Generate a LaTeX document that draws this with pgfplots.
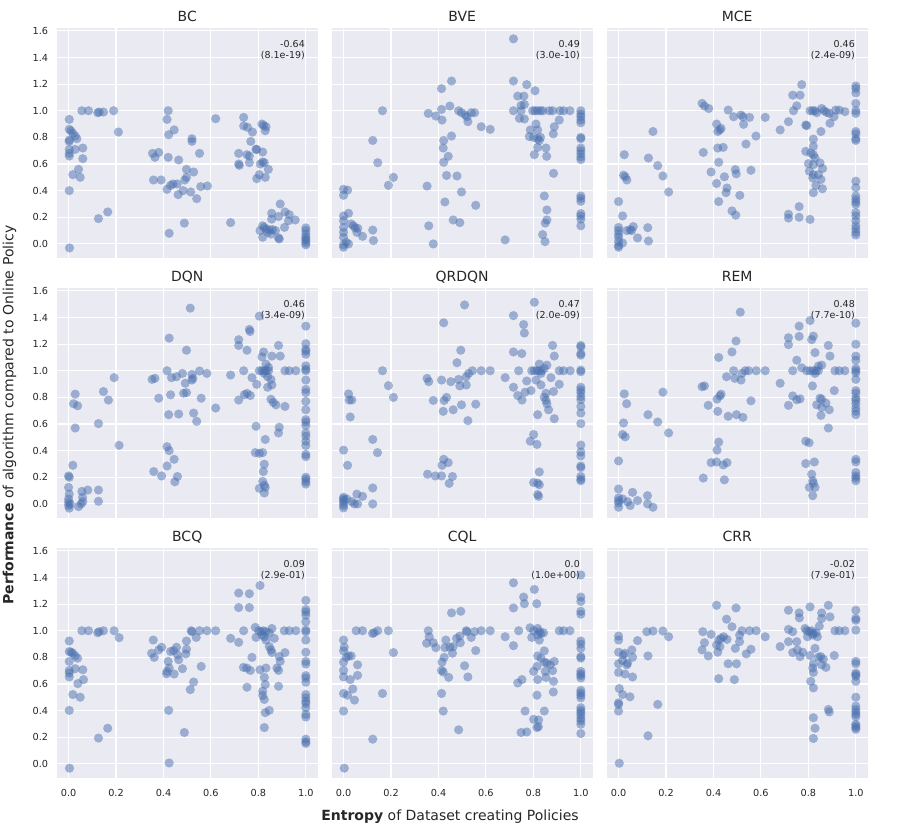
\documentclass[border=0pt]{standalone}
\usepackage{fontspec}
\setmainfont{DejaVu Sans}
\usepackage{pgfplots}
\pgfplotsset{compat=1.18}
\definecolor{bgc}{HTML}{EAEAF2}
\definecolor{ptc}{HTML}{4C72B0}
\definecolor{txt}{HTML}{262626}
\pgfplotsset{
 panel/.style={
  scale only axis, width=261pt, height=230pt,
  xmin=-0.05, xmax=1.05, ymin=-0.108, ymax=1.619,
  axis background/.style={fill=bgc},
  axis line style={draw=none},
  xmajorgrids, ymajorgrids, grid style={white, line width=1.1pt},
  major tick length=0pt, tick style={draw=none},
  xtick={0,0.2,0.4,0.6,0.8,1}, ytick={0,0.2,0.4,0.6,0.8,1,1.2,1.4,1.6},
  xticklabels={}, yticklabels={},
  ticklabel style={font=\fontsize{9.7}{11}\selectfont, text=txt},
  xticklabel style={anchor=center, inner sep=0pt, yshift=-15pt},
  yticklabel style={anchor=east, inner sep=0pt, xshift=-8.4pt},
  every axis title shift=0pt,
  title style={font=\fontsize{14}{16}\selectfont, text=txt, at={(0.5,1)}, anchor=base, yshift=7.2pt, inner sep=0pt},
 },
 sc/.style={only marks, mark=*, mark size=4.6pt, color=ptc, mark options={fill opacity=0.5, draw opacity=0}},
 bot/.style={xticklabels={0.0,0.2,0.4,0.6,0.8,1.0}},
 lef/.style={yticklabels={0.0,0.2,0.4,0.6,0.8,1.0,1.2,1.4,1.6}},
}
\newcommand{\corr}[2]{\node[anchor=north east, align=right, font=\fontsize{9.5}{10.3}\selectfont, text=txt, inner sep=0pt, xshift=-12.7pt, yshift=-12.2pt] at (rel axis cs:1,1) {#1\\#2};}
\begin{document}
\begin{tikzpicture}
\path[use as bounding box] (0,0) rectangle (900pt,-830pt);
% ---------- BC
\begin{axis}[panel, lef, title={BC}, at={(56.7pt,-28.3pt)}, anchor=north west]
\addplot[sc] coordinates {(0.003,0.935)(0.003,0.861)(0.01,0.849)(0.018,0.83)(0.028,0.81)(0.035,0.79)(0.003,0.78)(0.003,0.77)(0.003,0.71)(0.003,0.68)(0.003,0.66)(0.028,0.71)(0.06,0.72)(0.06,0.64)(0.042,0.56)(0.018,0.52)(0.049,0.50)(0.003,0.40)(0.004,-0.03)(0.056,1.0)(0.084,1.0)(0.123,0.985)(0.129,0.99)(0.147,0.99)(0.19,1.0)(0.21,0.84)(0.126,0.19)(0.165,0.24)
(0.42,1.0)(0.415,0.935)(0.422,0.82)(0.445,0.856)(0.52,0.79)(0.52,0.77)(0.62,0.94)(0.354,0.68)(0.364,0.65)(0.38,0.687)(0.42,0.65)(0.464,0.63)(0.552,0.68)(0.497,0.56)(0.527,0.54)(0.497,0.50)(0.49,0.48)(0.358,0.48)(0.39,0.48)(0.415,0.41)(0.43,0.44)(0.44,0.45)(0.458,0.45)(0.462,0.37)(0.483,0.40)(0.515,0.39)(0.54,0.34)(0.557,0.43)(0.585,0.435)(0.424,0.08)(0.488,0.156)(0.683,0.16)
(0.738,0.95)(0.738,0.886)(0.754,0.876)(0.775,0.84)(0.815,0.9)(0.822,0.89)(0.832,0.88)(0.829,0.85)(0.768,0.77)(0.79,0.71)(0.793,0.71)(0.818,0.69)(0.717,0.68)(0.717,0.60)(0.72,0.59)(0.752,0.67)(0.762,0.66)(0.762,0.61)(0.808,0.60)(0.818,0.615)(0.825,0.61)(0.842,0.56)(0.804,0.52)(0.793,0.49)(0.829,0.50)(0.892,0.30)(0.856,0.23)(0.912,0.24)(0.93,0.22)(0.885,0.206)(0.856,0.186)(0.927,0.174)(0.955,0.18)(0.91,0.124)(0.818,0.136)(0.825,0.124)(0.832,0.11)(0.807,0.10)(0.846,0.107)(0.86,0.107)(0.872,0.1)(0.839,0.087)(0.818,0.05)(0.853,0.074)(0.885,0.045)(0.888,0.037)(1.0,0.12)(1.0,0.1)(1.0,0.074)(1.0,0.05)(1.0,0.025)(1.0,0.007)(1.0,-0.007)(1.0,0.037)};
\corr{-0.64}{(8.1e-19)}
\end{axis}
% ---------- BVE
\begin{axis}[panel, title={BVE}, at={(331.7pt,-28.3pt)}, anchor=north west]
\addplot[sc] coordinates {(0.716,1.54)(0.716,1.223)(0.772,1.196)(0.807,1.15)(0.734,1.11)(0.76,1.11)(0.748,1.04)(0.762,1.047)(0.716,1.0)(0.748,1.0)(0.797,1.0)(0.807,1.0)(0.818,1.0)(0.83,1.0)(0.84,1.0)(0.867,1.0)(0.881,1.0)(0.912,1.0)(0.927,1.0)(0.954,1.0)(0.741,0.943)(0.762,0.938)(0.909,0.93)(0.888,0.88)(0.884,0.826)(0.811,0.9)(0.787,0.856)(0.818,0.856)(0.783,0.806)(0.801,0.80)(0.818,0.79)(0.825,0.777)(0.83,0.80)(0.818,0.725)(0.853,0.72)(0.804,0.67)(0.856,0.658)(0.885,0.53)(0.846,0.36)(0.857,0.255)(0.857,0.18)(0.85,0.156)(0.839,0.07)(0.849,0.017)(0.681,0.03)
(1,1.0)(1,0.975)(1,0.955)(1,0.93)(1,0.91)(1,0.80)(1,0.79)(1,0.72)(1,0.70)(1,0.677)(1,0.653)(1,0.633)(1,0.36)(1,0.342)(1,0.32)(1,0.228)(1,0.21)(1,0.186)(1,0.136)
(0.164,1.0)(0.123,0.777)(0.144,0.61)(0.21,0.50)(0.189,0.44)(0.352,0.434)(0.359,0.136)(0.378,0.0)(0.455,1.223)(0.413,1.166)(0.357,0.98)(0.389,0.96)(0.413,1.01)(0.415,0.93)(0.448,1.035)(0.485,1.0)(0.497,0.985)(0.513,0.968)(0.52,0.955)(0.538,0.985)(0.552,0.985)(0.524,0.918)(0.58,0.88)(0.618,0.86)(0.455,0.81)(0.422,0.777)(0.42,0.72)(0.441,0.658)(0.422,0.613)(0.434,0.514)(0.478,0.51)(0.497,0.39)(0.427,0.315)(0.557,0.29)(0.462,0.18)(0.49,0.16)
(0.0,0.41)(0.017,0.404)(0.0,0.365)(0.0,0.21)(0.021,0.23)(0.0,0.174)(0.0,0.124)(0.032,0.15)(0.042,0.136)(0.049,0.12)(0.06,0.117)(0.056,0.087)(0.0,0.087)(0.0,0.05)(0.011,0.012)(0.021,0.0)(0.0,-0.025)(0.0,-0.007)(0.08,0.057)(0.123,0.104)(0.126,0.025)};
\corr{0.49}{(3.0e-10)}
\end{axis}
% ---------- MCE
\begin{axis}[panel, title={MCE}, at={(606.7pt,-28.3pt)}, anchor=north west]
\addplot[sc] coordinates {(0,0.318)(0.017,0.21)(0.024,0.67)(0.021,0.516)(0.028,0.504)(0.035,0.48)(0,0.124)(0,0.1)(0,0.074)(0,0.05)(0,0.017)(0,-0.012)(0,-0.025)(0.017,0.007)(0.035,0.1)(0.049,0.107)(0.062,0.13)(0.055,0.1)(0.08,0.045)(0.123,0.122)(0.126,0.022)(0.145,0.844)(0.126,0.645)(0.165,0.588)(0.187,0.51)(0.211,0.39)
(0.352,1.055)(0.362,1.035)(0.38,1.017)(0.357,0.687)(0.413,0.9)(0.418,0.844)(0.427,0.856)(0.432,0.868)(0.418,0.72)(0.441,0.725)(0.422,0.613)(0.39,0.54)(0.413,0.454)(0.446,0.504)(0.457,0.42)(0.453,0.385)(0.422,0.318)(0.478,0.248)(0.494,0.216)(0.511,0.365)(0.492,0.558)(0.496,0.526)(0.558,0.553)(0.462,1.005)(0.485,0.955)(0.516,0.968)(0.524,0.955)(0.552,0.95)(0.527,0.898)(0.579,0.81)(0.537,0.75)(0.618,0.95)(0.681,0.856)(0.716,0.918)
(0.737,1.0)(0.751,1.037)(0.734,1.117)(0.765,1.117)(0.772,1.196)(0.789,0.893)(0.793,0.888)(0.807,1.0)(0.818,1.0)(0.828,1.0)(0.835,0.985)(0.856,1.017)(0.866,1.0)(0.877,0.988)(0.888,0.98)(0.908,0.955)(0.915,1.005)(0.93,1.005)(0.954,0.993)(0.891,0.906)(0.853,0.844)(0.821,0.787)(0.821,0.732)(0.789,0.695)(0.81,0.682)(0.821,0.67)(0.828,0.645)(0.8,0.603)(0.821,0.595)(0.849,0.608)(0.86,0.566)(0.804,0.546)(0.821,0.52)(0.842,0.52)(0.818,0.496)(0.853,0.484)(0.832,0.44)(0.859,0.414)(0.821,0.385)(0.761,0.28)(0.716,0.223)(0.716,0.194)(0.761,0.2)(0.807,0.184)
(1,1.186)(1,1.166)(1,1.134)(1,1.055)(1,1.0)(1,0.98)(1,0.844)(1,0.826)(1,0.79)(1,0.777)(1,0.471)(1,0.422)(1,0.36)(1,0.335)(1,0.315)(1,0.298)(1,0.236)(1,0.21)(1,0.174)(1,0.136)(1,0.112)(1,0.087)(1,0.067)};
\corr{0.46}{(2.4e-09)}
\end{axis}
% ---------- DQN
\begin{axis}[panel, lef, title={DQN}, at={(56.7pt,-288.3pt)}, anchor=north west]
\addplot[sc] coordinates {(0.513,1.47)(0.804,1.41)(1,1.335)(0.762,1.31)(0.765,1.295)(0.717,1.233)(0.717,1.19)(0.752,1.154)(0.424,1.245)(0.497,1.154)(0.885,1.19)(0.822,1.141)(0.815,1.104)(0.857,1.11)(0.892,1.11)(0.832,1.05)(0.843,1.025)(0.804,1.0)(0.815,1.0)(0.825,1.0)(0.832,1.0)(0.843,1.0)(0.825,0.98)(0.839,0.955)(0.853,0.935)(0.773,0.948)(0.793,0.898)(0.839,0.876)(0.857,0.893)(0.912,1.0)(0.93,1.0)(0.958,1.0)(0.738,1.0)(0.683,0.968)(0.741,0.82)(0.752,0.83)(0.766,0.814)(0.717,0.78)(0.853,0.786)(0.863,0.762)(0.874,0.744)(0.912,0.732)(0.888,0.576)(0.885,0.533)(0.79,0.583)(0.829,0.484)(0.787,0.385)(0.804,0.38)(0.818,0.385)(0.825,0.298)(0.821,0.243)(0.818,0.169)(0.825,0.141)(0.804,0.117)(0.829,0.124)(0.825,0.082)
(1,1.203)(1,1.16)(1,1.146)(1,1.124)(1,1.037)(1,1.012)(1,1.0)(1,0.93)(1,0.86)(1,0.836)(1,0.77)(1,0.707)(1,0.633)(1,0.615)(1,0.59)(1,0.533)(1,0.509)(1,0.471)(1,0.439)(1,0.372)(1,0.355)(1,0.2)(1,0.186)(1,0.166)(1,0.149)
(0.415,1.0)(0.434,0.948)(0.455,0.955)(0.48,0.98)(0.52,0.973)(0.552,0.998)(0.583,0.98)(0.52,0.93)(0.524,0.943)(0.492,0.906)(0.352,0.935)(0.364,0.943)(0.38,0.794)(0.43,0.819)(0.485,0.831)(0.497,0.836)(0.559,0.794)(0.62,0.72)(0.422,0.67)(0.464,0.675)(0.527,0.682)(0.54,0.62)(0.415,0.43)(0.424,0.40)(0.445,0.335)(0.415,0.285)(0.359,0.243)(0.392,0.21)(0.459,0.206)(0.448,0.166)
(0.028,0.824)(0.021,0.752)(0.038,0.737)(0.028,0.57)(0.147,0.844)(0.168,0.78)(0.192,0.948)(0.126,0.603)(0.213,0.44)(0.018,0.29)(0,0.21)(0.003,0.2)(0,0.124)(0.003,0.074)(0,0.037)(0,0.012)(0,-0.012)(0.003,-0.032)(0.007,0)(0.042,-0.02)(0.053,0)(0.06,0.017)(0.059,0.05)(0.056,0.094)(0.081,0.104)(0.126,0.104)(0.126,0.02)};
\corr{0.46}{(3.4e-09)}
\end{axis}
% ---------- QRDQN
\begin{axis}[panel, title={QRDQN}, at={(331.7pt,-288.3pt)}, anchor=north west]
\addplot[sc] coordinates {(0.51,1.494)(0.804,1.514)(0.716,1.414)(0.759,1.347)(0.762,1.283)(0.422,1.36)(0.494,1.154)(0.478,1.06)(0.716,1.141)(0.751,1.129)(0.881,1.19)(0.888,1.11)(0.825,1.05)(0.857,1.042)(0.793,1.0)(0.804,1.0)(0.815,1.0)(0.825,1.0)(0.835,1.0)(0.846,1.017)(0.832,0.98)(0.874,0.948)(0.909,0.898)(0.885,0.844)(0.853,0.831)(0.846,0.801)(0.853,0.777)(0.857,0.752)(0.864,0.707)(0.888,0.64)(0.818,0.67)(0.832,0.893)(0.811,0.93)(0.772,0.923)(0.738,1.0)(0.681,0.948)(0.716,0.876)(0.79,0.851)(0.765,0.839)(0.734,0.814)(0.752,0.78)(0.909,1.0)(0.927,1.0)(0.955,1.0)(0.801,0.521)(0.787,0.471)(0.815,0.447)(0.825,0.24)(0.801,0.161)(0.818,0.156)(0.825,0.144)(0.818,0.07)(0.822,0.057)
(1,1.19)(1,1.179)(1,1.129)(1,1.117)(1,1.005)(1,0.993)(1,0.876)(1,0.856)(1,0.836)(1,0.806)(1,0.782)(1,0.732)(1,0.682)(1,0.603)(1,0.442)(1,0.39)(1,0.36)(1,0.285)(1,0.273)(1,0.206)(1,0.186)(1,0.174)
(0.352,0.943)(0.359,0.918)(0.413,0.93)(0.452,0.918)(0.485,0.935)(0.49,0.886)(0.517,0.893)(0.517,0.955)(0.527,0.98)(0.543,1.0)(0.58,1.0)(0.618,1.0)(0.378,0.777)(0.424,0.777)(0.434,0.8)(0.42,0.695)(0.462,0.707)(0.497,0.744)(0.557,0.749)(0.524,0.625)(0.422,0.335)(0.415,0.29)(0.441,0.31)(0.354,0.223)(0.387,0.21)(0.413,0.21)(0.459,0.206)(0.445,0.154)
(0.021,0.826)(0.024,0.78)(0.035,0.78)(0.028,0.653)(0.164,1.0)(0.189,0.888)(0.21,0.8)(0.123,0.484)(0.143,0.385)(0,0.404)(0.017,0.29)(0,0.05)(0,0.037)(0,0.025)(0,0.007)(0,-0.012)(0,-0.03)(0.035,0.017)(0.046,0)(0.059,0)(0.056,0.074)(0.08,0.057)(0.123,0.12)(0.123,0)(0.014,0.037)};
\corr{0.47}{(2.0e-09)}
\end{axis}
% ---------- REM
\begin{axis}[panel, title={REM}, at={(606.7pt,-288.3pt)}, anchor=north west]
\addplot[sc] coordinates {(0.513,1.44)(0.807,1.377)(1,1.357)(0.761,1.335)(0.761,1.258)(0.821,1.26)(0.814,1.233)(0.716,1.248)(0.716,1.196)(0.495,1.223)(0.478,1.141)(0.422,1.1)(0.828,1.136)(0.884,1.19)(0.891,1.11)(0.751,1.079)(0.772,1.022)(0.842,1.035)(0.856,1.042)(0.734,1.0)(0.793,1.0)(0.807,1.0)(0.821,1.0)(0.832,1.0)(0.842,1.0)(0.828,0.98)(0.912,1.0)(0.93,1.0)(0.954,1.0)(0.817,0.886)(0.909,0.851)(0.681,0.906)(0.734,0.811)(0.751,0.782)(0.765,0.789)(0.716,0.74)(0.849,0.794)(0.856,0.786)(0.835,0.744)(0.856,0.725)(0.874,0.757)(0.888,0.707)(0.853,0.665)(0.884,0.57)(0.789,0.471)(0.803,0.459)(0.789,0.303)(0.825,0.315)(0.814,0.223)(0.818,0.174)(0.821,0.156)(0.804,0.124)(0.828,0.124)(0.818,0.062)
(1,1.199)(1,1.11)(1,1.079)(1,1.017)(1,1.0)(1,0.985)(1,0.935)(1,0.851)(1,0.831)(1,0.794)(1,0.777)(1,0.752)(1,0.72)(1,0.695)(1,0.67)(1,0.335)(1,0.315)(1,0.236)(1,0.21)(1,0.194)(1,0.174)
(0.455,0.955)(0.485,1.0)(0.49,0.943)(0.52,0.98)(0.516,0.93)(0.534,1.0)(0.548,1.0)(0.58,1.0)(0.618,1.0)(0.352,0.88)(0.362,0.886)(0.415,0.787)(0.427,0.811)(0.432,0.824)(0.378,0.74)(0.558,0.774)(0.418,0.695)(0.462,0.658)(0.497,0.67)(0.524,0.65)(0.422,0.464)(0.415,0.404)(0.39,0.31)(0.413,0.315)(0.441,0.293)(0.457,0.31)(0.357,0.194)(0.446,0.181)
(0.024,0.826)(0.034,0.752)(0.021,0.608)(0.017,0.521)(0.028,0.504)(0.187,0.839)(0.124,0.67)(0.165,0.615)(0.211,0.533)(0,0.323)(0,0.112)(0,0.045)(0,0.025)(0,0.007)(0,-0.025)(0.017,0.037)(0.038,0.017)(0.049,-0.012)(0.059,0.087)(0.08,0.025)(0.122,0.062)(0.122,0)(0.145,-0.025)};
\corr{0.48}{(7.7e-10)}
\end{axis}
% ---------- BCQ
\begin{axis}[panel, lef, bot, title={BCQ}, at={(56.7pt,-548.3pt)}, anchor=north west]
\addplot[sc] coordinates {(0.807,1.34)(0.717,1.283)(0.762,1.278)(0.717,1.174)(0.762,1.174)(1,1.228)(1,1.159)(1,1.141)(1,1.117)(1,1.067)(1,1.005)(1,0.993)(1,0.93)(1,0.839)(1,0.77)(1,0.75)(1,0.663)(1,0.645)(1,0.613)(1,0.521)(1,0.496)(1,0.471)(1,0.454)(1,0.422)(1,0.372)(1,0.352)(1,0.186)(1,0.166)(1,0.154)
(0.787,1.025)(0.801,1.0)(0.811,0.993)(0.821,1.0)(0.832,0.993)(0.815,0.968)(0.825,0.955)(0.846,0.985)(0.857,1.017)(0.79,0.95)(0.832,0.93)(0.867,0.943)(0.846,0.881)(0.853,0.856)(0.857,0.836)(0.888,0.806)(0.912,0.836)(0.892,0.77)(0.878,0.72)(0.885,0.702)(0.909,1.0)(0.93,1.0)(0.958,1.0)(0.738,1.0)(0.683,0.943)(0.717,0.913)(0.773,0.8)(0.737,0.725)(0.751,0.72)(0.766,0.702)(0.807,0.707)(0.832,0.72)(0.825,0.65)(0.829,0.596)(0.818,0.546)(0.818,0.514)(0.825,0.484)(0.752,0.576)(0.885,0.583)(0.829,0.385)(0.846,0.402)(0.825,0.273)
(0.517,1.0)(0.52,0.993)(0.552,1.0)(0.583,1.0)(0.62,1.0)(0.538,0.95)(0.497,0.923)(0.357,0.93)(0.392,0.876)(0.38,0.856)(0.35,0.831)(0.361,0.80)(0.43,0.844)(0.443,0.851)(0.455,0.876)(0.459,0.819)(0.464,0.782)(0.494,0.826)(0.497,0.861)(0.42,0.77)(0.424,0.72)(0.415,0.695)(0.413,0.677)(0.445,0.675)(0.48,0.715)(0.559,0.732)(0.527,0.615)(0.513,0.558)(0.422,0.402)(0.488,0.236)(0.424,0.007)
(0.003,0.923)(0.003,0.844)(0.011,0.839)(0.018,0.831)(0.028,0.811)(0.038,0.794)(0.003,0.77)(0.003,0.702)(0.003,0.682)(0.003,0.653)(0.028,0.715)(0.06,0.707)(0.063,0.633)(0.039,0.603)(0.018,0.521)(0.049,0.501)(0.003,0.402)(0.004,-0.032)(0.056,1.0)(0.084,1.0)(0.123,0.985)(0.129,0.993)(0.147,1.0)(0.192,1.0)(0.213,0.948)(0.126,0.194)(0.165,0.268)};
\corr{0.09}{(2.9e-01)}
\end{axis}
% ---------- CQL
\begin{axis}[panel, bot, title={CQL}, at={(331.7pt,-548.3pt)}, anchor=north west]
\addplot[sc] coordinates {(1,1.419)(0.716,1.36)(0.804,1.31)(0.759,1.253)(0.762,1.203)(0.814,1.203)(0.716,1.171)(1,1.253)(1,1.22)(1,1.146)(1,1.124)
(1,0.923)(1,0.9)(1,0.868)(1,0.806)(1,0.794)(1,0.695)(1,0.677)(1,0.663)(1,0.645)(1,0.553)(1,0.533)(1,0.516)(1,0.496)(1,0.422)(1,0.402)(1,0.385)(1,0.365)(1,0.342)(1,0.323)(1,0.298)(1,0.228)
(0.786,1.022)(0.801,1.0)(0.818,1.017)(0.825,0.993)(0.832,0.98)(0.843,0.985)(0.818,0.968)(0.793,0.95)(0.825,0.93)(0.909,1.0)(0.927,1.0)(0.954,1.0)(0.738,1.0)(0.681,0.955)(0.716,0.888)(0.846,0.849)(0.818,0.811)(0.832,0.794)(0.846,0.764)(0.857,0.757)(0.871,0.744)(0.888,0.77)(0.815,0.732)(0.801,0.695)(0.85,0.695)(0.881,0.7)(0.853,0.65)(0.818,0.633)(0.885,0.62)(0.752,0.633)(0.734,0.608)(0.884,0.54)(0.815,0.516)(0.765,0.397)(0.846,0.397)(0.801,0.335)(0.822,0.33)(0.815,0.273)(0.821,0.28)(0.748,0.236)(0.772,0.24)
(0.357,1.0)(0.361,0.955)(0.35,0.906)(0.378,0.91)(0.389,0.873)(0.431,0.93)(0.427,0.873)(0.448,0.876)(0.462,0.881)(0.459,0.831)(0.476,0.943)(0.49,0.96)(0.492,0.91)(0.517,1.0)(0.52,0.993)(0.538,0.95)(0.552,0.993)(0.58,1.0)(0.618,1.0)(0.557,0.851)(0.455,1.134)(0.494,1.146)(0.424,0.8)(0.415,0.764)(0.413,0.702)(0.42,0.69)(0.443,0.65)(0.51,0.737)(0.524,0.653)(0.413,0.529)(0.42,0.397)(0.485,0.256)
(0,0.93)(0.003,0.876)(0,0.849)(0.011,0.8)(0.021,0.811)(0.032,0.811)(0,0.764)(0,0.702)(0,0.653)(0.028,0.633)(0.059,0.744)(0.059,0.665)(0.039,0.563)(0,0.529)(0.017,0.516)(0.046,0.479)(0.164,0.529)(0.21,0.836)(0,0.397)(0.123,0.186)(0.003,-0.032)(0.053,1.0)(0.08,1.0)(0.122,0.98)(0.129,0.985)(0.144,1.0)(0.189,1.0)};
\corr{0.0}{(1.0e+00)}
\end{axis}
% ---------- CRR
\begin{axis}[panel, bot, title={CRR}, at={(606.7pt,-548.3pt)}, anchor=north west]
\addplot[sc] coordinates {(0.413,1.191)(0.495,1.171)(0.455,1.087)(0.478,1.03)(0.716,1.154)(0.761,1.134)(0.762,1.097)(0.807,1.179)(0.856,1.134)(0.856,1.092)(0.884,1.191)(0.891,1.104)(1,1.154)(1,1.092)(1,1.079)(1,1.005)
(1,0.77)(1,0.752)(1,0.682)(1,0.67)(1,0.658)(1,0.62)(1,0.501)(1,0.434)(1,0.409)(1,0.39)(1,0.372)(1,0.355)(1,0.298)(1,0.285)(1,0.273)(1,0.26)
(0.846,1.035)(0.786,1.017)(0.793,1.0)(0.804,0.993)(0.814,1.0)(0.821,0.98)(0.832,0.985)(0.838,0.955)(0.796,0.955)(0.818,0.968)(0.912,1.0)(0.93,1.0)(0.954,1.0)(0.716,1.01)(0.734,0.993)(0.681,0.881)(0.716,0.918)(0.734,0.836)(0.751,0.918)(0.754,0.856)(0.765,0.806)(0.776,0.839)(0.828,0.868)(0.807,0.814)(0.842,0.801)(0.852,0.806)(0.863,0.787)(0.856,0.744)(0.874,0.725)(0.909,0.814)(0.821,0.752)(0.818,0.72)(0.821,0.687)(0.81,0.62)(0.821,0.571)(0.884,0.409)(0.888,0.39)(0.821,0.347)(0.828,0.268)(0.821,0.191)
(0.355,0.993)(0.39,0.973)(0.52,1.0)(0.552,1.0)(0.58,1.0)(0.618,0.955)(0.51,0.968)(0.443,0.955)(0.432,0.943)(0.422,0.93)(0.413,0.893)(0.362,0.91)(0.427,0.881)(0.457,0.935)(0.51,0.918)(0.492,0.868)(0.352,0.856)(0.418,0.839)(0.378,0.811)(0.558,0.861)(0.538,0.826)(0.462,0.752)(0.497,0.752)(0.422,0.64)(0.488,0.633)
(0,0.96)(0,0.93)(0,0.839)(0,0.752)(0,0.687)(0.02,0.819)(0.027,0.831)(0.038,0.757)(0.035,0.744)(0.017,0.777)(0.056,0.856)(0.059,0.801)(0.027,0.675)(0.059,0.653)(0.08,0.926)(0.124,0.811)(0.119,0.993)(0.145,0.998)(0.187,0.998)(0.211,0.955)(0.003,0.566)(0.017,0.521)(0.048,0.504)(0,0.459)(0,0.447)(0,0.397)(0.165,0.447)(0.124,0.211)(0.003,0.005)};
\corr{-0.02}{(7.9e-01)}
\end{axis}
\node[rotate=90, font=\fontsize{14}{16}\selectfont, text=txt] at (9.5pt,-415pt) {\textbf{Performance} of algorithm compared to Online Policy};
\node[font=\fontsize{14}{16}\selectfont, text=txt] at (450pt,-817pt) {\textbf{Entropy} of Dataset creating Policies};
\end{tikzpicture}
\end{document}
